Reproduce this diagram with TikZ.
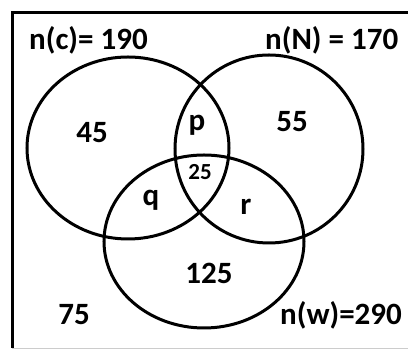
\documentclass[tikz,border=0pt]{standalone}
\usepackage{fontspec}
\setmainfont{Carlito}
\usepackage{tikz}
\usetikzlibrary{positioning}
\tikzstyle{set}=[black,line width=3pt]
\tikzstyle{lbl}=[inner sep=0pt,anchor=base,font=\fontsize{31}{34}\selectfont\bfseries]
\tikzstyle{small}=[lbl,font=\fontsize{23}{26}\selectfont\bfseries]

\begin{document}
\begin{tikzpicture}[x=1pt,y=1pt]
    \useasboundingbox (0,0) rectangle (408,350);
    % frame
    \draw[line width=3pt] (408,337) -- (12,337) -- (12,2);
    \draw[gray!40,line width=1pt] (12,1.5) -- (408,1.5);
    % sets
    \draw[set] (128,202) ellipse [x radius=101,y radius=91];
    \draw[set] (269,201) ellipse [x radius=94,y radius=94];
    \draw[set] (204,108.5) ellipse [x radius=100,y radius=86.5];
    % totals
    \node[lbl,anchor=base west] (nc) at (29,300) {n(c)= 190};
    \node[lbl,anchor=base west] (nn) at (265,300) {n(N) = 170};
    \node[lbl,anchor=base west] (nw) at (280,25) {n(w)=290};
    % regions
    \node[lbl] (onlyc) at (92,207) {45};
    \node[lbl] (onlyn) at (292,218) {55};
    \node[lbl] (onlyw) at (209,66) {125};
    \node[lbl] (cn) at (197,219) {p};
    \node[lbl] (cw) at (151,144) {q};
    \node[lbl] (nw2) at (246,135) {r};
    \node[small] (all) at (200,170) {25};
    \node[lbl] (none) at (74,25) {75};
\end{tikzpicture}
\end{document}
